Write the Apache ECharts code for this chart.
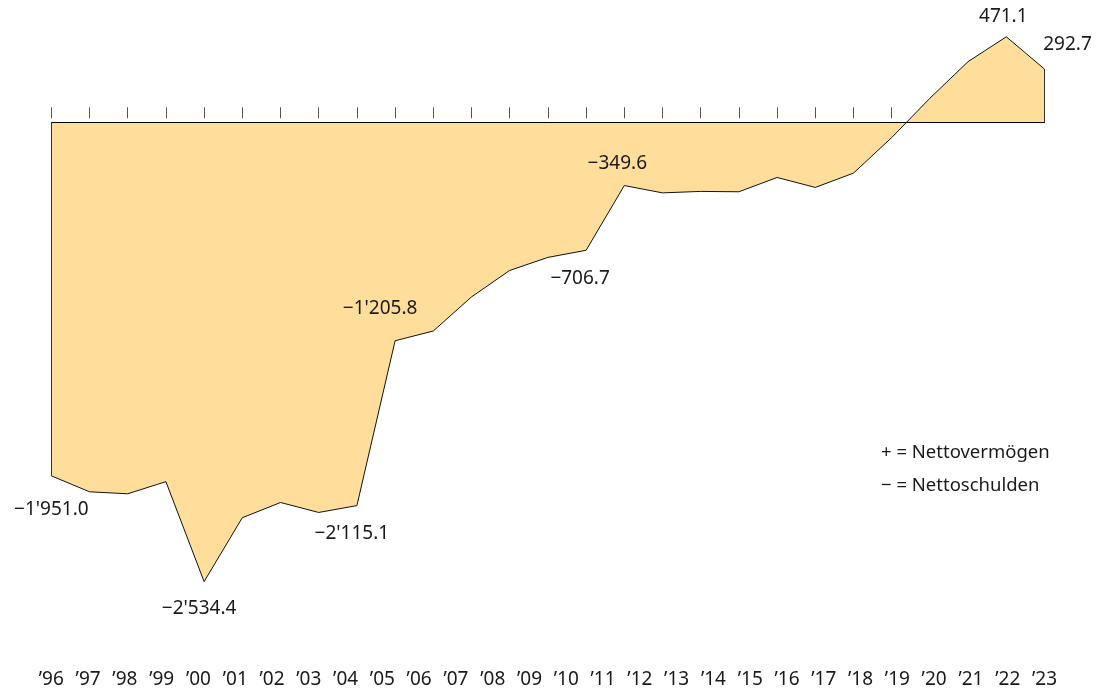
<!DOCTYPE html>
<html>
<head>
<meta charset="utf-8">
<script src="https://cdn.jsdelivr.net/npm/echarts@6/dist/echarts.min.js"></script>
<style>
    html,body{margin:0;padding:0;background:#fff;}
    #main{width:1110px;height:689px;}
</style>
</head>
<body>
<div id="main"></div>
<script>
//x轴年份标签
const yearLabels = ['’96','’97','’98','’99','’00','’01','’02','’03','’04','’05','’06','’07','’08','’09','’10','’11','’12','’13','’14','’15','’16','’17','’18','’19','’20','’21','’22','’23']
//净资产 / 净负债 (百万)
const netValues = [-1951.0,-2039,-2050,-1983,-2534.4,-2182,-2098,-2153,-2115.1,-1205.8,-1152,-964,-818,-746,-706.7,-349.6,-390,-382,-384,-305,-360,-281,-85,132,334,471.1,292.7]
//标注的数据点
const labeledIdx = [0,4,8,9,14,15,25,26]
//图例文字
const noteLines = ['+ = Nettovermögen','− = Nettoschulden']

let fontName = 'Noto Sans'
//数据点所用的类目
let pointCats = yearLabels.slice(0, netValues.length)

//格式化数字 -1951 -> −1'951.0
function fmt(v){
    let s = Math.abs(v).toFixed(1)
    let parts = s.split('.')
    let intPart = parts[0].replace(/\B(?=(\d{3})+(?!\d))/g, "'")
    return (v < 0 ? '−' : '') + intPart + '.' + parts[1]
}

//标签偏移
let labelOffset = {
    0:[0,34],
    4:[-5,27],
    8:[-5,28],
    9:[-15,-32],
    14:[-6,28],
    15:[-7,-22],
    25:[-3,-20],
    26:[23,-25]
}

let seriesData = netValues.map((v,i) => {
    let obj = {value:v}
    if(labeledIdx.indexOf(i) >= 0){
        obj.label = {
            show:true,
            position:'inside',
            offset:labelOffset[i],
            formatter:fmt(v)
        }
    }
    return obj
})

let myChart = echarts.init(document.getElementById('main'))
let option = {
    animation:false,
    grid:[
        {left:51.3, right:65.5, top:13.4, bottom:22.2},
        {left:51.3, right:65.5, top:0, bottom:570.7}
    ],
    xAxis:[
        {
            gridIndex:0,
            type:'category',
            data:pointCats,
            boundaryGap:false,
            z:3,
            axisLine:{show:true, onZero:true, lineStyle:{color:'#000', width:1}},
            axisTick:{show:false},
            axisLabel:{show:false},
            splitLine:{show:false}
        },
        {
            gridIndex:0,
            type:'category',
            data:yearLabels,
            position:'bottom',
            boundaryGap:false,
            axisLine:{show:false, onZero:false},
            axisTick:{show:false},
            axisLabel:{show:true, interval:0, margin:4, fontSize:19, fontFamily:fontName, color:'#1a1a1a'},
            splitLine:{show:false}
        },
        {
            gridIndex:1,
            type:'category',
            data:pointCats,
            boundaryGap:false,
            axisLine:{show:false, onZero:false},
            axisTick:{show:true, inside:true, length:11, interval:0, lineStyle:{color:'#555', width:1}},
            axisLabel:{show:false},
            splitLine:{show:false}
        }
    ],
    yAxis:[
        {gridIndex:0, type:'value', min:-3000, max:600, show:false},
        {gridIndex:1, type:'value', min:0, max:1, show:false}
    ],
    series:[
        {
            type:'line',
            xAxisIndex:0,
            yAxisIndex:0,
            data:seriesData,
            symbol:'circle',
            symbolSize:1,
            showSymbol:true,
            itemStyle:{color:'rgba(0,0,0,0)'},
            lineStyle:{color:'#111', width:1},
            areaStyle:{color:'#FEDE9A', opacity:1},
            label:{
                show:false,
                fontSize:19,
                fontFamily:fontName,
                color:'#1a1a1a'
            },
            emphasis:{disabled:true},
            markLine:{
                silent:true,
                symbol:'none',
                label:{show:false},
                lineStyle:{color:'#333', width:1, type:'solid'},
                data:[
                    [{coord:[pointCats[0],0]},{coord:[pointCats[0],netValues[0]]}],
                    [{coord:[pointCats[pointCats.length-1],0]},{coord:[pointCats[pointCats.length-1],netValues[netValues.length-1]]}]
                ]
            }
        }
    ],
    graphic:[
        {type:'text', left:881, top:443, style:{text:noteLines[0], fontSize:18.5, fontFamily:fontName, fill:'#1a1a1a'}},
        {type:'text', left:881, top:476, style:{text:noteLines[1], fontSize:18.5, fontFamily:fontName, fill:'#1a1a1a'}}
    ]
}
myChart.setOption(option)
</script>
</body>
</html>
